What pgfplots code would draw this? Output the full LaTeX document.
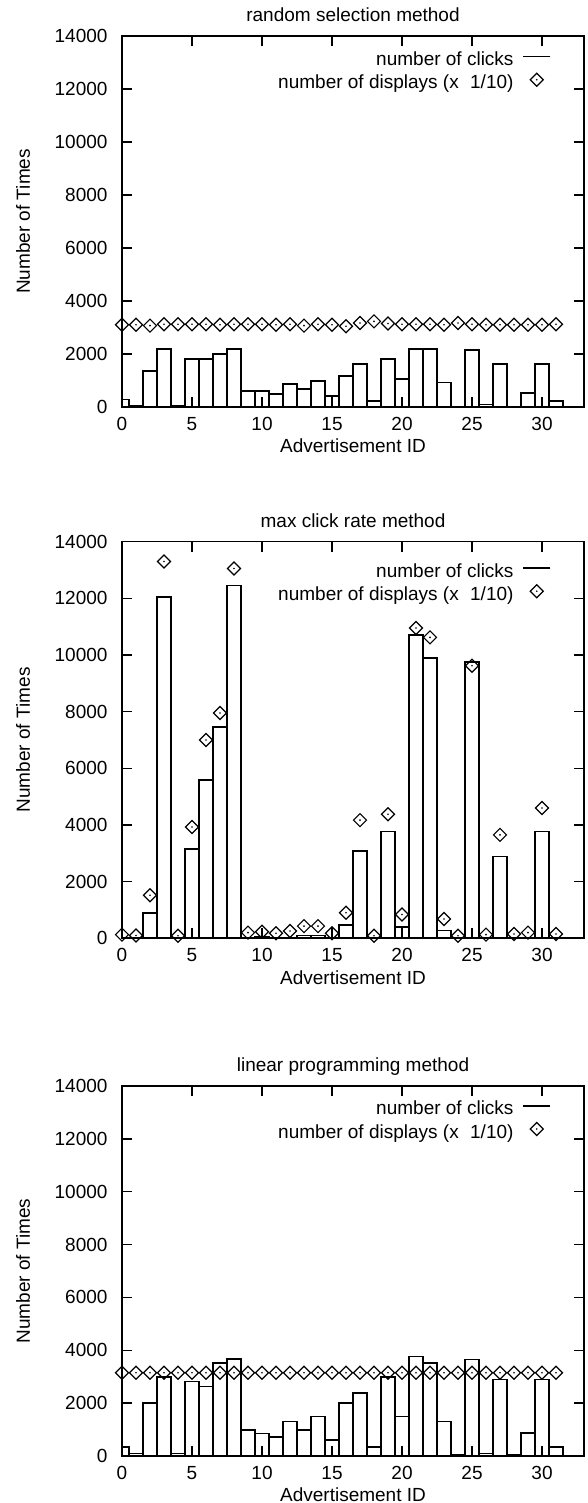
\documentclass[border=0pt]{standalone}
\usepackage{fontspec}
\setmainfont{Liberation Sans}
\usepackage{pgfplots}
\pgfplotsset{compat=1.18}
\usepackage{pgfplotstable}

\pgfdeclareplotmark{ddot}{%
  \pgfpathmoveto{\pgfqpoint{0pt}{\pgfplotmarksize}}%
  \pgfpathlineto{\pgfqpoint{\pgfplotmarksize}{0pt}}%
  \pgfpathlineto{\pgfqpoint{0pt}{-\pgfplotmarksize}}%
  \pgfpathlineto{\pgfqpoint{-\pgfplotmarksize}{0pt}}%
  \pgfpathclose
  \pgfusepathqstroke
  \pgfpathcircle{\pgfpointorigin}{0.9pt}%
  \pgfusepathqfill
}

\pgfplotstableread{
x clicks disp
0 280 3100
1 40 3100
2 1370 3070
3 2200 3120
4 40 3120
5 1820 3120
6 1820 3120
7 2000 3100
8 2200 3120
9 600 3120
10 600 3120
11 480 3100
12 860 3120
13 670 3070
14 990 3120
15 410 3100
16 1180 3050
17 1630 3170
18 220 3230
19 1820 3150
20 1050 3120
21 2200 3120
22 2200 3120
23 920 3100
24 10 3170
25 2140 3120
26 90 3100
27 1630 3100
28 0 3100
29 540 3100
30 1630 3100
31 220 3120
}\randomtab

\pgfplotstableread{
x clicks disp
0 0 130
1 0 100
2 900 1520
3 12050 13300
4 0 90
5 3150 3930
6 5580 7000
7 7450 7950
8 12450 13050
9 0 200
10 50 230
11 0 180
12 30 260
13 100 430
14 100 430
15 0 180
16 480 900
17 3090 4170
18 0 90
19 3770 4380
20 410 840
21 10700 10950
22 9900 10620
23 280 680
24 0 90
25 9750 9620
26 0 130
27 2890 3650
28 0 150
29 0 200
30 3770 4600
31 0 150
}\maxtab

\pgfplotstableread{
x clicks disp
0 350 3150
1 100 3150
2 2000 3150
3 2990 3150
4 100 3150
5 2820 3150
6 2630 3150
7 3520 3150
8 3680 3150
9 990 3150
10 850 3150
11 730 3150
12 1300 3150
13 990 3150
14 1490 3150
15 610 3150
16 2000 3150
17 2380 3150
18 350 3150
19 2990 3150
20 1490 3150
21 3770 3150
22 3520 3150
23 1300 3150
24 40 3150
25 3650 3150
26 100 3150
27 2890 3150
28 50 3150
29 860 3150
30 2890 3150
31 350 3150
}\lptab

\pgfplotsset{
  gp/.style={
    scale only axis, width=462pt,
    anchor=south west,
    font=\fontsize{19pt}{22pt}\selectfont,
    xmin=0, xmax=33, ymin=0, ymax=14000,
    xtick={0,5,...,30}, ytick={0,2000,...,14000},
    tick align=inside, major tick length=10pt,
    axis line style={line width=1.7pt},
    every tick/.style={line width=1.5pt, black},
    scaled ticks=false,
    /pgf/number format/assume math mode=true,
    /pgf/number format/1000 sep={},
    axis on top,
    xticklabel style={anchor=center, yshift=-17pt},
    yticklabel style={anchor=east, xshift=-8pt},
    xlabel={Advertisement ID}, ylabel={Number of Times},
    every axis x label/.style={at={(rel axis cs:0.5,0)}, anchor=center, yshift=-39pt},
    every axis y label/.style={at={(rel axis cs:0,0.5)}, anchor=center, xshift=-99pt, rotate=90},
    every axis title/.style={at={(rel axis cs:0.5,1)}, anchor=base, yshift=14pt},
    legend cell align=right, legend plot pos=right,
    legend style={draw=none, fill=none, inner sep=0pt, outer sep=0pt, anchor=north east,
      row sep=2.6pt, column sep=8pt,
      nodes={inner sep=1pt, text height=12pt, text depth=4pt}},
    legend image code/.code={\draw[mark repeat=2,mark phase=2,##1] plot coordinates {(0pt,5pt) (13.5pt,5pt) (27pt,5pt)};},
  },
  barsty/.style={ybar, bar width=1, bar shift=0pt, draw=black, fill=white, line width=1.7pt,
    legend image code/.code={\draw[line width=1.5pt, black] (0pt,5pt) -- (27pt,5pt);}},
  marksty/.style={only marks, mark=ddot, mark size=6.5pt, line width=1.2pt, black},
}

\begin{document}
\fontsize{19pt}{22pt}\selectfont
\begin{tikzpicture}
\useasboundingbox (0pt,0pt) rectangle (587pt,1503pt);

\begin{axis}[gp, at={(122pt,1096pt)}, height=371pt,
  title={random selection method},
  legend style={at={(0.9286,0.955)}}]
\addplot[barsty] table[x=x,y=clicks]{\randomtab};
\addlegendentry{number of clicks}
\addplot[marksty] table[x=x,y=disp]{\randomtab};
\addlegendentry{number of displays (x\hspace{0.6em}1/10)}
\end{axis}

\begin{axis}[gp, at={(122pt,564.7pt)}, height=396.7pt,
  title={max click rate method},
  legend style={at={(0.9286,0.943)}}]
\addplot[barsty] table[x=x,y=clicks]{\maxtab};
\addlegendentry{number of clicks}
\addplot[marksty] table[x=x,y=disp]{\maxtab};
\addlegendentry{number of displays (x\hspace{0.6em}1/10)}
\end{axis}

\begin{axis}[gp, at={(122pt,47pt)}, height=370pt,
  title={linear programming method},
  legend style={at={(0.9286,0.957)}}]
\addplot[barsty] table[x=x,y=clicks]{\lptab};
\addlegendentry{number of clicks}
\addplot[marksty] table[x=x,y=disp]{\lptab};
\addlegendentry{number of displays (x\hspace{0.6em}1/10)}
\end{axis}
\end{tikzpicture}
\end{document}
